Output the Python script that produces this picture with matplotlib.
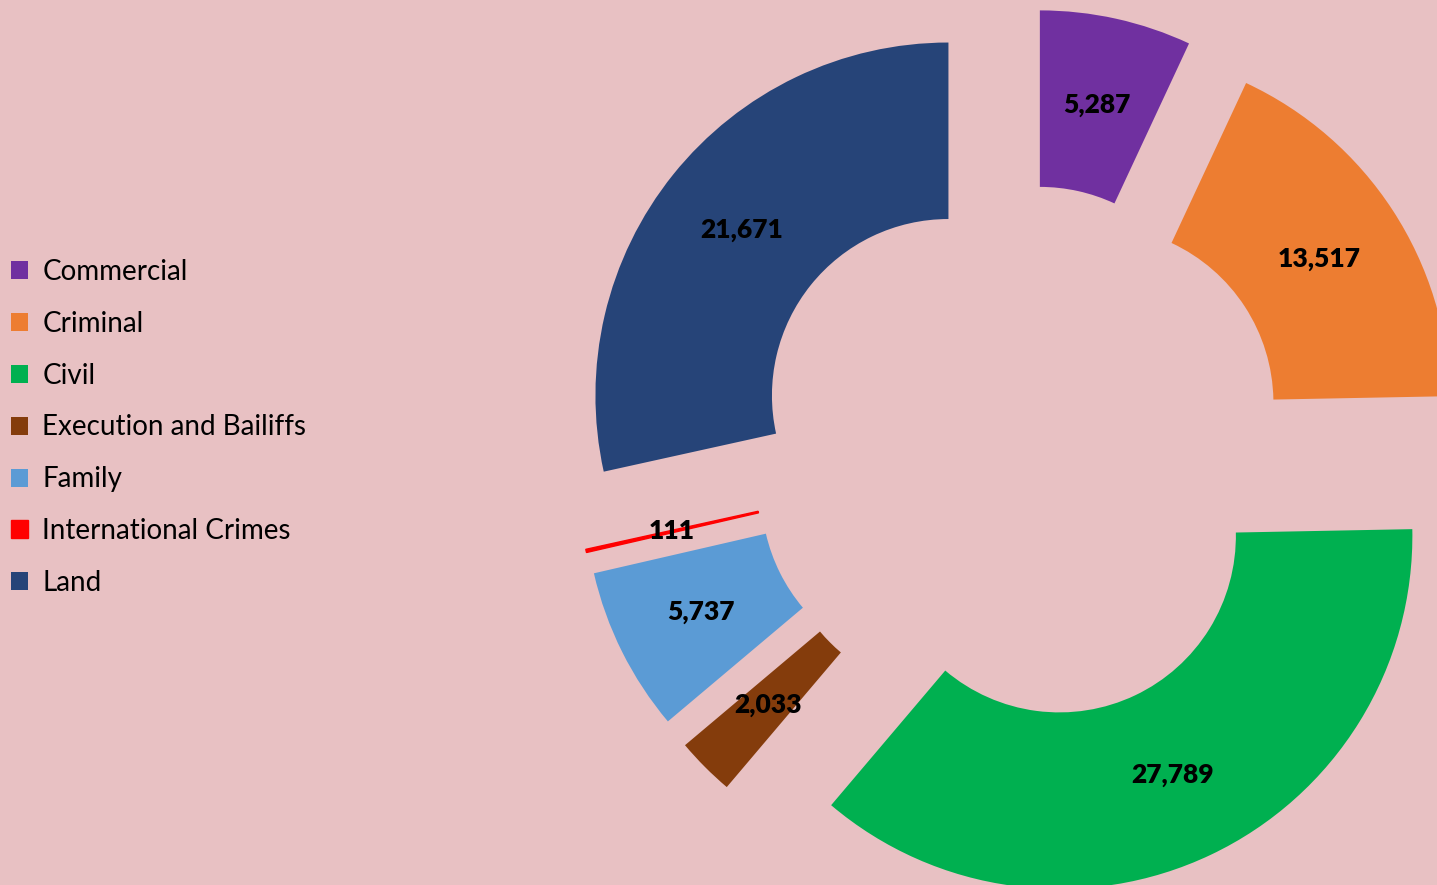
import matplotlib.pyplot as plt
import numpy as np

# Cases by category
categories = ['Commercial', 'Criminal', 'Civil', 'Execution and Bailiffs',
              'Family', 'International Crimes', 'Land']
values = [5287, 13517, 27789, 2033, 5737, 111, 21671]
colors = ['#7030A0', '#ED7D31', '#00B050', '#843C0C', '#5B9BD5', '#FF0000', '#264478']

W, H = 1437, 885
fig = plt.figure(figsize=(W / 100, H / 100), dpi=100)
fig.patch.set_facecolor('#E8C1C3')
ax = fig.add_axes([0, 0, 1, 1])
ax.set_facecolor('none')

wedges, _ = ax.pie(values, colors=colors, startangle=90, counterclock=False,
                   explode=[0.26] * len(values), radius=1.0,
                   wedgeprops=dict(width=0.5, linewidth=0))
wedges[5].set_edgecolor('#FF0000')
wedges[5].set_linewidth(1.0)

# value labels in the middle of each ring segment
for w, v in zip(wedges, values):
    ang = np.deg2rad((w.theta1 + w.theta2) / 2)
    cx, cy = w.center
    ax.text(cx + 0.75 * np.cos(ang), cy + 0.75 * np.sin(ang), f'{v:,}',
            ha='center', va='center', fontsize=19, fontweight='heavy',
            family='Lato', color='black')

# place the donut like the original (center at pixel 1020, 453; r = 353 px)
r_px = 353.0
cx_px, cy_px = 1020.0, 453.0
ax.set_xlim(-cx_px / r_px, (W - cx_px) / r_px)
ax.set_ylim(-(H - cy_px) / r_px, cy_px / r_px)
ax.set_aspect('equal')
ax.axis('off')

leg = fig.legend(wedges, categories, loc='center left',
                 bbox_to_anchor=(0.0077, 0.517), frameon=False,
                 prop={'family': 'Lato', 'size': 20},
                 handlelength=0.62, handleheight=0.62, handletextpad=0.5,
                 labelspacing=0.93, borderpad=0, borderaxespad=0)

fig.savefig('out.png', dpi=100, facecolor=fig.get_facecolor())
